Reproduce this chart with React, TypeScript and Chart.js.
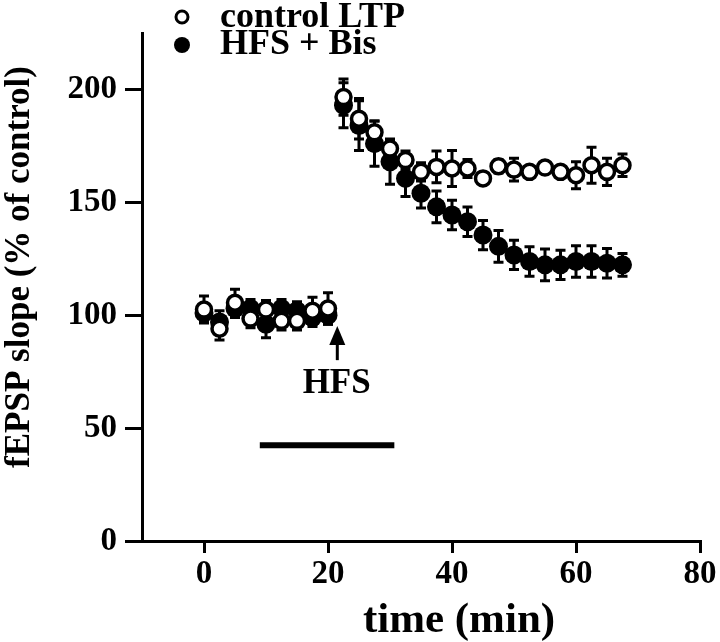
import React, { useEffect, useRef } from 'react';
import { Chart, registerables } from 'chart.js';

Chart.register(...registerables);

// ---- data ----
const timeMin = [
  0, 2.5, 5, 7.5, 10, 12.5, 15, 17.5, 20,
  22.5, 25, 27.5, 30, 32.5, 35, 37.5, 40, 42.5, 45, 47.5, 50, 52.5, 55, 57.5, 60, 62.5, 65, 67.5,
];
const controlLTP = [
  102.5, 94, 105.5, 98.5, 102.5, 97.5, 97.5, 102, 103,
  196.6, 187, 181, 173.8, 168.7, 163.5, 165.7, 165, 165, 160.6, 166, 164.5, 163.5, 165.4, 163.5, 162, 166.4, 163.5, 166.4,
];
const controlErr = [
  6, 5, 6, 4, 4, 4, 4, 6, 7,
  8, 9, 5, 4, 4, 4, 7, 8, 4, 2, 3, 5, 2, 2, 2, 6, 8, 6, 5,
];
const hfsBis = [
  101, 97, 103, 103, 96, 103, 102, 99, 100,
  193, 184, 176, 168, 160.6, 154, 148, 144.4, 141.4, 135.5, 130.5, 126.7, 123.8, 122.3, 122.3, 123.8, 123.8, 123, 122.3,
];
const hfsBisErr = [
  4, 5, 4, 4, 6, 4, 4, 4, 4,
  10, 11, 10, 10, 8, 6.5, 7, 6.5, 6.5, 6.5, 7, 6.5, 6.5, 7, 6.5, 7, 7, 6.5, 5,
];
const seriesLabels = ['control LTP', 'HFS + Bis'];
const xTickValues = [0, 20, 40, 60, 80];
const yTickValues = [0, 50, 100, 150, 200];
const xTitle = 'time (min)';
const yTitle = 'fEPSP slope (% of control)';
const hfsLabel = 'HFS';
// annotation (data units)
const hfsBarStart = 9;
const hfsBarEnd = 30.7;
const hfsBarLevel = 42.4;
const hfsArrowX = 21.5;
const hfsArrowTail = 80.1;
const hfsArrowHeadBase = 86.8;
const hfsArrowTip = 95.2;
const hfsTextX = 21.4;
const hfsTextBaseline = 65.5;

const FONT = '"Liberation Serif", "Times New Roman", serif';
const errs = [controlErr, hfsBisErr];
const vals = [controlLTP, hfsBis];

const errorBarPlugin = {
  id: 'errorBars',
  beforeDatasetDraw(chart: any, args: any) {
    const i = args.index;
    const { ctx, scales } = chart;
    const xs = scales.x;
    const ys = scales.y;
    ctx.save();
    ctx.strokeStyle = '#000';
    ctx.lineWidth = 3;
    ctx.lineCap = 'butt';
    for (let k = 0; k < timeMin.length; k++) {
      const x = xs.getPixelForValue(timeMin[k]);
      const yt = ys.getPixelForValue(vals[i][k] + errs[i][k]);
      const yb = ys.getPixelForValue(vals[i][k] - errs[i][k]);
      ctx.beginPath();
      ctx.moveTo(x, yt);
      ctx.lineTo(x, yb);
      ctx.moveTo(x - 5, yt);
      ctx.lineTo(x + 5, yt);
      ctx.moveTo(x - 5, yb);
      ctx.lineTo(x + 5, yb);
      ctx.stroke();
    }
    ctx.restore();
  },
};

const annotationPlugin = {
  id: 'annotations',
  afterDraw(chart: any) {
    const { ctx, scales } = chart;
    const xs = scales.x;
    const ys = scales.y;
    ctx.save();
    ctx.fillStyle = '#000';
    ctx.strokeStyle = '#000';
    // HFS bar
    ctx.lineWidth = 6;
    ctx.beginPath();
    ctx.moveTo(xs.getPixelForValue(hfsBarStart), ys.getPixelForValue(hfsBarLevel));
    ctx.lineTo(xs.getPixelForValue(hfsBarEnd), ys.getPixelForValue(hfsBarLevel));
    ctx.stroke();
    // arrow
    const ax = xs.getPixelForValue(hfsArrowX);
    ctx.lineWidth = 3;
    ctx.beginPath();
    ctx.moveTo(ax, ys.getPixelForValue(hfsArrowTail));
    ctx.lineTo(ax, ys.getPixelForValue(hfsArrowHeadBase) - 2);
    ctx.stroke();
    ctx.beginPath();
    ctx.moveTo(ax, ys.getPixelForValue(hfsArrowTip));
    ctx.lineTo(ax - 8, ys.getPixelForValue(hfsArrowHeadBase));
    ctx.lineTo(ax + 8, ys.getPixelForValue(hfsArrowHeadBase));
    ctx.closePath();
    ctx.fill();
    // HFS text
    ctx.font = `bold 35px ${FONT}`;
    ctx.textAlign = 'center';
    ctx.textBaseline = 'alphabetic';
    ctx.fillText(hfsLabel, xs.getPixelForValue(hfsTextX), ys.getPixelForValue(hfsTextBaseline));

    // axis titles
    ctx.font = `bold 43px ${FONT}`;
    ctx.textAlign = 'center';
    ctx.fillText(xTitle, 459, 632);
    ctx.save();
    ctx.translate(29, 267);
    ctx.rotate(-Math.PI / 2);
    ctx.font = `bold 35px ${FONT}`;
    ctx.textAlign = 'center';
    ctx.textBaseline = 'alphabetic';
    ctx.fillText(yTitle, 0, 0);
    ctx.restore();

    // legend
    ctx.lineWidth = 3;
    ctx.fillStyle = '#fff';
    ctx.beginPath();
    ctx.arc(182, 17, 6, 0, Math.PI * 2);
    ctx.fill();
    ctx.stroke();
    ctx.fillStyle = '#000';
    ctx.beginPath();
    ctx.arc(182, 45, 8, 0, Math.PI * 2);
    ctx.fill();
    ctx.font = `bold 36px ${FONT}`;
    ctx.textAlign = 'left';
    ctx.fillText(seriesLabels[0], 220, 27);
    ctx.fillText(seriesLabels[1], 220, 54);
    ctx.restore();
  },
};

export default function App() {
  const ref = useRef<HTMLCanvasElement>(null);
  useEffect(() => {
    const canvas = ref.current;
    if (!canvas) return;
    const chart = new Chart(canvas, {
      type: 'scatter',
      data: {
        datasets: [
          {
            label: seriesLabels[0],
            data: timeMin.map((t, k) => ({ x: t, y: controlLTP[k] })),
            showLine: false,
            pointRadius: 7.5,
            pointHoverRadius: 7.5,
            pointBorderWidth: 3.5,
            pointBackgroundColor: '#fff',
            pointBorderColor: '#000',
          },
          {
            label: seriesLabels[1],
            data: timeMin.map((t, k) => ({ x: t, y: hfsBis[k] })),
            showLine: false,
            pointRadius: 9.5,
            pointHoverRadius: 9.5,
            pointBorderWidth: 0,
            pointBackgroundColor: '#000',
            pointBorderColor: '#000',
          },
        ],
      },
      options: {
        responsive: false,
        animation: false,
        events: [],
        layout: { padding: { top: 33, right: 20, left: 0, bottom: 0 } },
        plugins: {
          legend: { display: false },
          tooltip: { enabled: false },
        },
        scales: {
          x: {
            type: 'linear',
            min: -10,
            max: 80,
            afterBuildTicks: (s: any) => {
              s.ticks = xTickValues.map((v) => ({ value: v }));
            },
            afterFit: (s: any) => {
              s.height = 101;
            },
            ticks: {
              stepSize: 20,
              color: '#000',
              padding: 2,
              maxRotation: 0,
              autoSkip: false,
              font: { family: FONT, size: 33, weight: 'bold' },
            },
            grid: { drawOnChartArea: false, tickLength: 12, color: '#000', lineWidth: 3 },
            border: { display: true, color: '#000', width: 3 },
          },
          y: {
            type: 'linear',
            min: 0,
            max: 225,
            afterBuildTicks: (s: any) => {
              s.ticks = yTickValues.map((v) => ({ value: v }));
            },
            afterFit: (s: any) => {
              s.width = 142;
            },
            ticks: {
              stepSize: 50,
              color: '#000',
              padding: 8,
              autoSkip: false,
              font: { family: FONT, size: 33, weight: 'bold' },
            },
            grid: { drawOnChartArea: false, tickLength: 17, color: '#000', lineWidth: 3 },
            border: { display: true, color: '#000', width: 3 },
          },
        },
      },
      plugins: [errorBarPlugin, annotationPlugin],
    } as any);
    return () => chart.destroy();
  }, []);
  return (
    <div style={{ position: 'absolute', left: 0, top: 0, width: 720, height: 642, background: '#fff' }}>
      <canvas ref={ref} width={720} height={642} style={{ display: 'block', width: 720, height: 642 }} />
    </div>
  );
}
